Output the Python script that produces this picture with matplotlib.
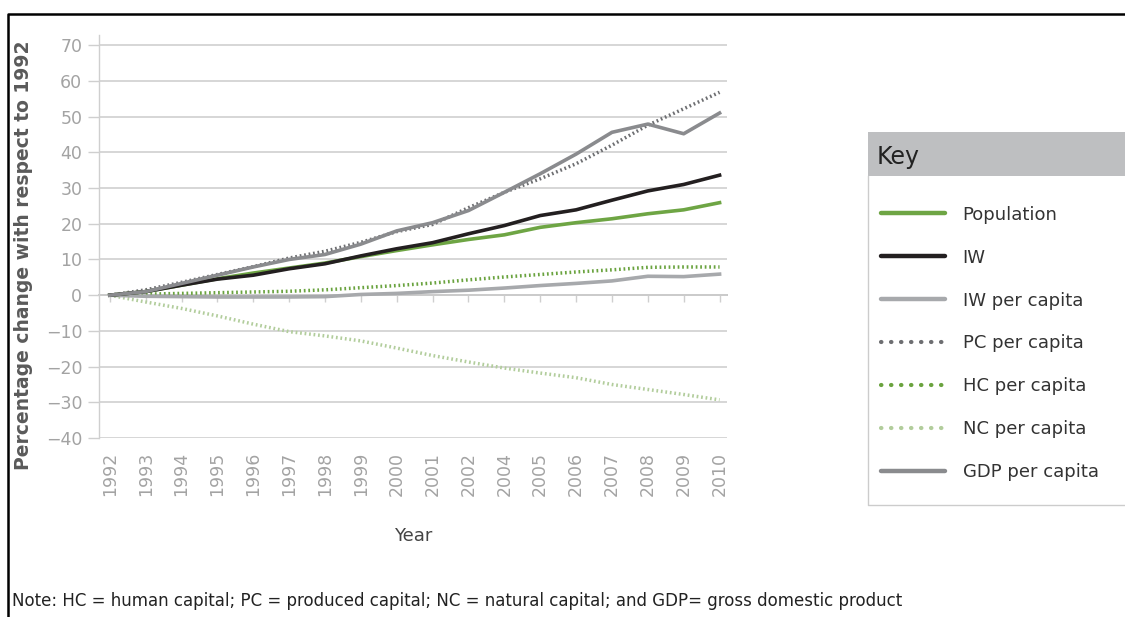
import matplotlib
matplotlib.use("Agg")
import matplotlib.pyplot as plt
from matplotlib.lines import Line2D
from matplotlib.patches import Rectangle

plt.rcParams['font.family'] = ['DejaVu Sans']

# data (percent change vs 1992)
years = ['1992', '1993', '1994', '1995', '1996', '1997', '1998', '1999', '2000',
         '2001', '2002', '2004', '2005', '2006', '2007', '2008', '2009', '2010']
population = [0, 1.0, 2.8, 4.6, 6.2, 7.6, 9.0, 10.8, 12.5, 14.1, 15.6, 16.9,
              19.0, 20.3, 21.4, 22.8, 23.9, 25.9]
iw = [0, 1.0, 2.8, 4.5, 5.6, 7.4, 8.8, 11.0, 13.0, 14.7, 17.2, 19.5,
      22.3, 23.9, 26.6, 29.2, 31.0, 33.6]
iw_pc = [0, -0.3, -0.4, -0.5, -0.5, -0.5, -0.4, 0.2, 0.5, 1.0, 1.4, 2.0,
         2.7, 3.3, 4.0, 5.3, 5.2, 5.9]
pc_pc = [0, 1.5, 3.6, 5.8, 8.0, 10.4, 12.3, 14.8, 17.8, 19.8, 24.5, 28.8,
         32.6, 36.8, 42.0, 47.6, 52.2, 56.8]
hc_pc = [0, 0.3, 0.5, 0.7, 0.9, 1.1, 1.5, 2.1, 2.7, 3.4, 4.3, 5.1, 5.8,
         6.5, 7.1, 7.8, 7.9, 7.9]
nc_pc = [0, -1.9, -3.7, -5.8, -8.1, -10.2, -11.4, -12.8, -14.8, -16.9,
         -18.7, -20.4, -21.8, -23.1, -25.0, -26.4, -27.8, -29.3]
gdp_pc = [0, 1.0, 3.3, 5.6, 7.9, 10.0, 11.4, 14.3, 18.0, 20.3, 23.7, 28.8,
          34.0, 39.5, 45.6, 47.9, 45.2, 51.0]

yticks = [70, 60, 50, 40, 30, 20, 10, 0, -10, -20, -30, -40]

c_pop = '#6ea544'
c_iw = '#231f20'
c_iwpc = '#a7a9ac'
c_pc = '#6d6e71'
c_hc = '#6aa33f'
c_nc = '#b2cd9c'
c_gdp = '#8a8b8e'
tick_gray = '#a3a3a3'
grid_gray = '#cfcfcf'

fig = plt.figure(figsize=(11.25, 6.17), dpi=100)
ax = fig.add_axes([0.088, 0.290, 0.558, 0.653])

x = list(range(len(years)))
dot = (0, (0.5, 0.8))
ax.plot(x, nc_pc, color=c_nc, lw=2.5, ls=dot)
ax.plot(x, hc_pc, color=c_hc, lw=2.5, ls=dot)
ax.plot(x, iw_pc, color=c_iwpc, lw=2.6)
ax.plot(x, pc_pc, color=c_pc, lw=2.5, ls=dot)
ax.plot(x, population, color=c_pop, lw=2.6)
ax.plot(x, iw, color=c_iw, lw=2.6)
ax.plot(x, gdp_pc, color=c_gdp, lw=2.6)

ax.set_xlim(-0.3, 17.2)
ax.set_ylim(-40, 72.8)
ax.set_yticks(yticks)
ax.set_yticklabels([str(v).replace('-', '\u2212') for v in yticks])
ax.set_xticks(x)
ax.set_xticklabels(years, rotation=90)
ax.tick_params(axis='x', length=0, colors=tick_gray, labelsize=12.5, pad=10)
ax.tick_params(axis='y', length=8, width=1, color=grid_gray, colors=tick_gray,
               labelsize=12.5, pad=4)
ax.grid(axis='y', color=grid_gray, lw=1.2)
ax.set_axisbelow(True)
for s in ['top', 'right', 'bottom']:
    ax.spines[s].set_visible(False)
ax.spines['left'].set_color(grid_gray)
ax.spines['left'].set_linewidth(1)

# category tick marks along the zero line
sec = ax.secondary_xaxis(0, transform=ax.transData)
sec.set_xticks(x)
sec.set_xticklabels([])
sec.tick_params(length=5, width=1, color=grid_gray)
sec.spines['bottom'].set_color('#b0b0b0')
sec.spines['bottom'].set_linewidth(1.2)

ax.set_ylabel('Percentage change with respect to 1992', fontsize=13.5,
              fontweight='bold', color='#5a5a5a')
ax.yaxis.set_label_coords(-0.105, 0.455)
ax.set_xlabel('Year', fontsize=13, color='#444444', labelpad=22)

# key
dots = (0, (0.1, 2.3))
handles = [
    Line2D([], [], color=c_pop, lw=3.2, solid_capstyle='round'),
    Line2D([], [], color=c_iw, lw=3.2, solid_capstyle='round'),
    Line2D([], [], color=c_iwpc, lw=3.2, solid_capstyle='round'),
    Line2D([], [], color=c_pc, lw=3, ls=dots, dash_capstyle='round'),
    Line2D([], [], color=c_hc, lw=3, ls=dots, dash_capstyle='round'),
    Line2D([], [], color=c_nc, lw=3, ls=dots, dash_capstyle='round'),
    Line2D([], [], color=c_gdp, lw=3.2, solid_capstyle='round'),
]
labels = ['Population', 'IW', 'IW per capita', 'PC per capita', 'HC per capita',
          'NC per capita', 'GDP per capita']
fig.legend(handles, labels, loc='upper left', bbox_to_anchor=(0.769, 0.693),
           frameon=False, fontsize=13, handlelength=3.5, handletextpad=1.0,
           labelspacing=1.38, labelcolor='#333333')

fig.add_artist(Rectangle((868 / 1125, 1 - 176 / 617), 257 / 1125, 44 / 617,
                         transform=fig.transFigure, color='#bebfc1', lw=0))
fig.text(877 / 1125, 1 - 157 / 617, 'Key', fontsize=17, color='#222222',
         va='center', ha='left')
fig.add_artist(Line2D([868 / 1125, 868 / 1125, 1.0],
                      [1 - 176 / 617, 1 - 505 / 617, 1 - 505 / 617],
                      transform=fig.transFigure, color='#cccccc', lw=1))

# outer frame
fig.add_artist(Line2D([8 / 1125, 8 / 1125, 1.0], [0, 1 - 14 / 617, 1 - 14 / 617],
                      transform=fig.transFigure, color='black', lw=1.8))

fig.text(12 / 1125, 1 - 601 / 617,
         'Note: HC = human capital; PC = produced capital; NC = natural capital; '
         'and GDP= gross domestic product',
         fontsize=12, color='#222222', va='center', ha='left')

fig.savefig('out.png', dpi=100)
